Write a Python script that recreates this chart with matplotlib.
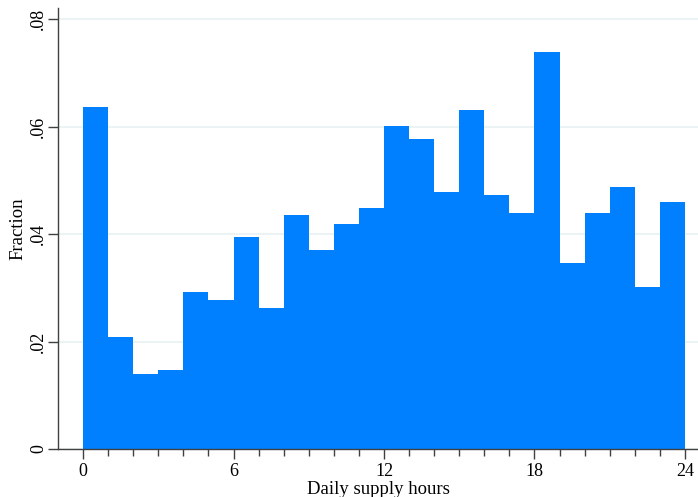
import numpy as np
import matplotlib.pyplot as plt

plt.rcParams['font.family'] = ['Liberation Serif', 'DejaVu Serif']

# histogram of daily supply hours, one-hour bins
bin_edges = np.arange(0, 25, 1)
fractions = [0.0637, 0.0208, 0.0140, 0.0147, 0.0292, 0.0277, 0.0394, 0.0262,
             0.0435, 0.0370, 0.0419, 0.0448, 0.0601, 0.0577, 0.0478, 0.0631,
             0.0473, 0.0439, 0.0739, 0.0346, 0.0439, 0.0487, 0.0301, 0.0460]
xticks = [0, 6, 12, 18, 24]
yticks = [0, 0.02, 0.04, 0.06, 0.08]
yticklabels = ["0", ".02", ".04", ".06", ".08"]

fig = plt.figure(figsize=(6.98, 4.97), dpi=100)
ax = fig.add_axes([58 / 698, 1 - 449 / 497, 640 / 698, 441 / 497])

ax.bar(bin_edges[:-1], fractions, width=1.0, align="edge",
       color="#0080ff", edgecolor="none", zorder=2)

ax.set_xlim(-1.0, 24.52)
ax.set_ylim(0, 0.0821)

ax.set_xticks(xticks)
ax.set_xticks(np.arange(0, 25, 1), minor=True)
ax.set_yticks(yticks)
ax.set_yticklabels(yticklabels, rotation=90, va="center")
ax.tick_params(axis="both", which="major", length=7, width=1, labelsize=13,
               color="#404040", pad=3)
ax.tick_params(axis="y", which="major", pad=1)
ax.tick_params(axis="x", which="minor", length=5, width=1, color="#404040")
ax.tick_params(axis="y", which="minor", left=False)

ax.grid(axis="y", color="#eaf2f3", linewidth=1.3, zorder=0)
ax.set_axisbelow(True)

for side in ("top", "right"):
    ax.spines[side].set_visible(False)
for side in ("left", "bottom"):
    ax.spines[side].set_color("#404040")
    ax.spines[side].set_linewidth(1.0)

ax.set_xlabel("Daily supply hours", fontsize=13.5, labelpad=0.5)
ax.set_ylabel("Fraction", fontsize=13.5, labelpad=2.5)

fig.savefig("out.png", dpi=100)
